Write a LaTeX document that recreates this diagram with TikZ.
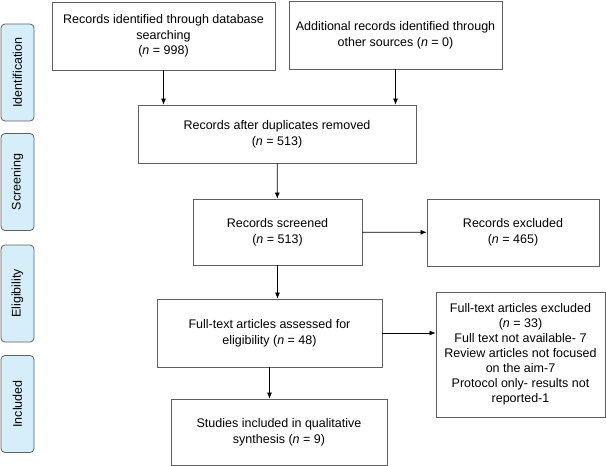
\documentclass[tikz,border=0pt]{standalone}
\usepackage{fontspec}
\setmainfont{Liberation Sans}
\usetikzlibrary{arrows.meta}
\definecolor{phaseblue}{RGB}{214,238,250}
\definecolor{boxgray}{RGB}{95,95,95}
\tikzset{
  box/.style={draw=boxgray, line width=0.8pt, align=center, inner sep=0pt,
    font=\fontsize{12.5}{15.6}\selectfont},
  phase/.style={draw=boxgray, fill=phaseblue, rounded corners=4pt, line width=0.8pt,
    rotate=90, minimum width=97pt, minimum height=33pt, inner sep=0pt,
    font=\fontsize{12.5}{15}\selectfont},
  arr/.style={-{Latex[length=6pt,width=5pt]}, line width=0.7pt},
}
\begin{document}
\begin{tikzpicture}[x=1pt,y=-1pt]
  \useasboundingbox (0,0) rectangle (606,466);
  % phases
  \node[phase] (ident) at (17.5,72.5) {Identification};
  \node[phase] (screen) at (17.5,182) {Screening};
  \node[phase] (elig) at (17.5,293.5) {Eligibility};
  \node[phase] (incl) at (17.5,404) {Included};

  \node[box, minimum width=223pt, minimum height=68pt] (db) at (163.5,36) {Records identified through database\\searching\\(\textit{n} = 998)};
  \node[box, minimum width=213pt, minimum height=68pt] (other) at (395.5,35) {Additional records identified through\\other sources (\textit{n} = 0)};
  \node[box, minimum width=278pt, minimum height=58pt] (dup) at (277,134) {Records after duplicates removed\\(\textit{n} = 513)};
  \node[box, minimum width=169pt, minimum height=66pt] (scr) at (277.5,232) {Records screened\\(\textit{n} = 513)};
  \node[box, minimum width=172pt, minimum height=67pt] (excl) at (513,232.5) {Records excluded\\(\textit{n} = 465)};
  \node[box, minimum width=225pt, minimum height=68pt] (ft) at (269.5,333) {Full-text articles assessed for\\eligibility (\textit{n} = 48)};
  \node[box, minimum width=169pt, minimum height=125pt, font=\fontsize{12.5}{15}\selectfont] (ftx) at (520.5,354.5) {Full-text articles excluded\\(\textit{n} = 33)\\Full text not available- 7\\Review articles not focused\\on the aim-7\\Protocol only- results not\\reported-1};
  \node[box, minimum width=216pt, minimum height=66pt] (stud) at (279,432) {Studies included in qualitative\\synthesis (\textit{n} = 9)};

  \draw[arr] (db.south) -- (db.south |- dup.north);
  \draw[arr] (other.south) -- (other.south |- dup.north);
  \draw[arr] (dup) -- (scr);
  \draw[arr] (scr) -- (excl); % excluded
  \draw[arr] (scr.south) -- (scr.south |- ft.north);
  \draw[arr] (ft.east) -- (ft.east -| ftx.west); % excluded
  \draw[arr] (ft.south) -- (ft.south |- stud.north);
\end{tikzpicture}
\end{document}
